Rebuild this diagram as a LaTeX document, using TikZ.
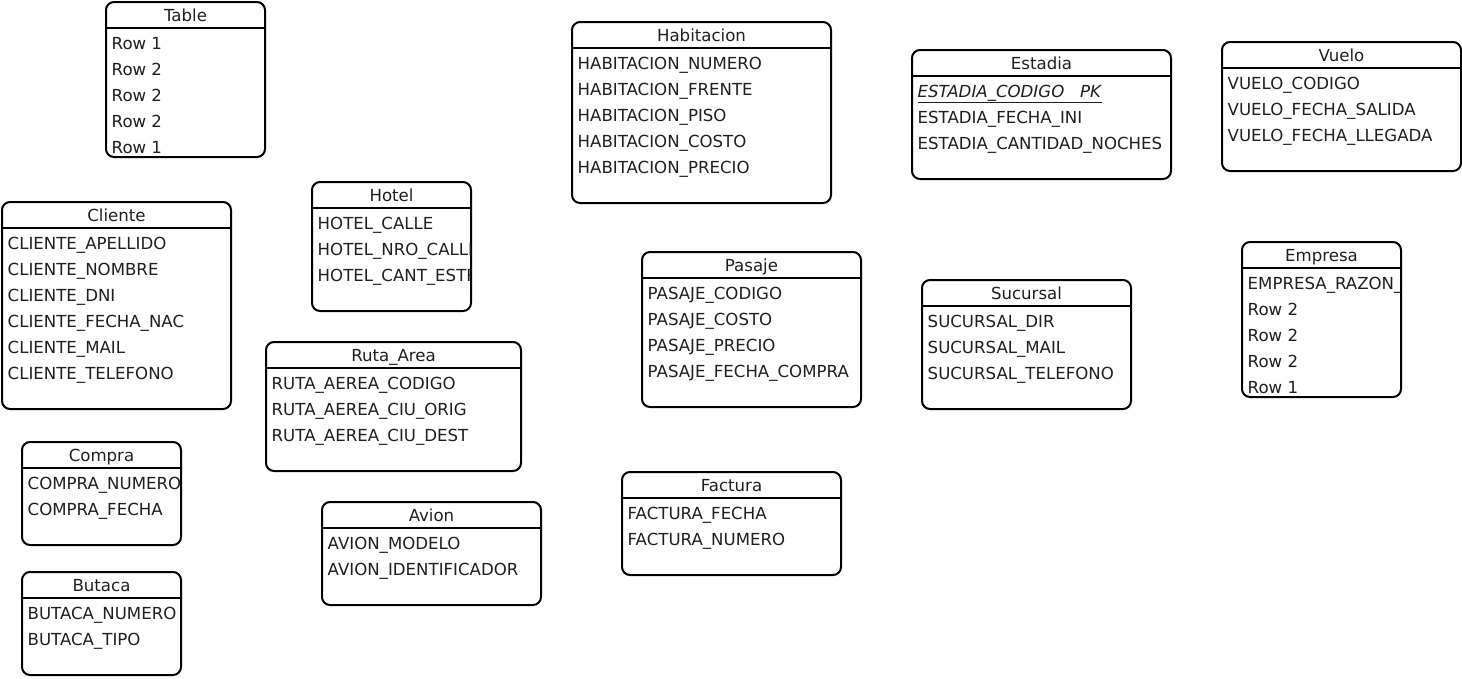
\documentclass[tikz,border=0pt]{standalone}
\usepackage{fontspec}
\setmainfont{DejaVu Sans}
\tikzset{
  tbl/.style={draw=black, line width=2pt, rounded corners=8pt, fill=white, inner sep=0pt, outer sep=0pt},
  tblline/.style={draw=black, line width=1.8pt},
  hdr/.style={anchor=base, inner sep=0pt, font=\fontsize{16.6}{19}\selectfont, text=black!88},
  rowtxt/.style={anchor=base west, inner sep=0pt, font=\fontsize{16.6}{19}\selectfont, text=black!88},
}
\newcommand\erTable[7]{%
  \node[tbl, minimum width=#4pt, minimum height=#5pt, anchor=north west] (#1) at (#2,#3) {};
  \draw[tblline] ([yshift=-26pt]#1.north west) -- ([yshift=-26pt]#1.north east);
  \node[hdr] (#1-title) at ([yshift=-19pt]#1.north) {#6};
  \begin{scope}
    \clip ([xshift=1pt,yshift=1pt]#1.south west) rectangle ([xshift=-1pt]#1.north east);
    \foreach \r [count=\i] in {#7} {
      \node[rowtxt] (#1-\i) at ([xshift=5.5pt, yshift={-47pt-26pt*(\i-1)}]#1.north west) {\r};
    }
  \end{scope}
}
\begin{document}
\begin{tikzpicture}[x=1pt,y=-1pt]
\useasboundingbox (0,0) rectangle (1462,678);
\erTable{table}{106}{2}{159}{155}{Table}{Row 1,Row 2,Row 2,Row 2,Row 1}
\erTable{hotel}{312}{182}{159}{129}{Hotel}{HOTEL\_CALLE,HOTEL\_NRO\_CALLE,HOTEL\_CANT\_ESTRELLAS}
\erTable{cliente}{2}{202}{229}{207}{Cliente}{CLIENTE\_APELLIDO,CLIENTE\_NOMBRE,CLIENTE\_DNI,CLIENTE\_FECHA\_NAC,CLIENTE\_MAIL,CLIENTE\_TELEFONO}
\erTable{compra}{22}{442}{159}{103}{Compra}{COMPRA\_NUMERO,COMPRA\_FECHA}
\erTable{butaca}{22}{572}{159}{103}{Butaca}{BUTACA\_NUMERO,BUTACA\_TIPO}
\erTable{ruta}{266}{342}{255}{129}{Ruta\_Area}{RUTA\_AEREA\_CODIGO,RUTA\_AEREA\_CIU\_ORIG,RUTA\_AEREA\_CIU\_DEST}
\erTable{avion}{322}{502}{219}{103}{Avion}{AVION\_MODELO,AVION\_IDENTIFICADOR}
\erTable{habitacion}{572}{22}{259}{181}{Habitacion}{HABITACION\_NUMERO,HABITACION\_FRENTE,HABITACION\_PISO,HABITACION\_COSTO,HABITACION\_PRECIO}
\erTable{pasaje}{642}{252}{219}{155}{Pasaje}{PASAJE\_CODIGO,PASAJE\_COSTO,PASAJE\_PRECIO,PASAJE\_FECHA\_COMPRA}
\erTable{factura}{622}{472}{219}{103}{Factura}{FACTURA\_FECHA,FACTURA\_NUMERO}
\erTable{estadia}{912}{50}{259}{129}{Estadia}{{\underline{\textit{ESTADIA\_CODIGO\ \ \ PK}}},ESTADIA\_FECHA\_INI,ESTADIA\_CANTIDAD\_NOCHES}
\erTable{sucursal}{922}{280}{209}{129}{Sucursal}{SUCURSAL\_DIR,SUCURSAL\_MAIL,SUCURSAL\_TELEFONO}
\erTable{vuelo}{1222}{42}{239}{129}{Vuelo}{VUELO\_CODIGO,VUELO\_FECHA\_SALIDA,VUELO\_FECHA\_LLEGADA}
\erTable{empresa}{1242}{242}{159}{155}{Empresa}{EMPRESA\_RAZON\_SOCIAL,Row 2,Row 2,Row 2,Row 1}
\end{tikzpicture}
\end{document}
